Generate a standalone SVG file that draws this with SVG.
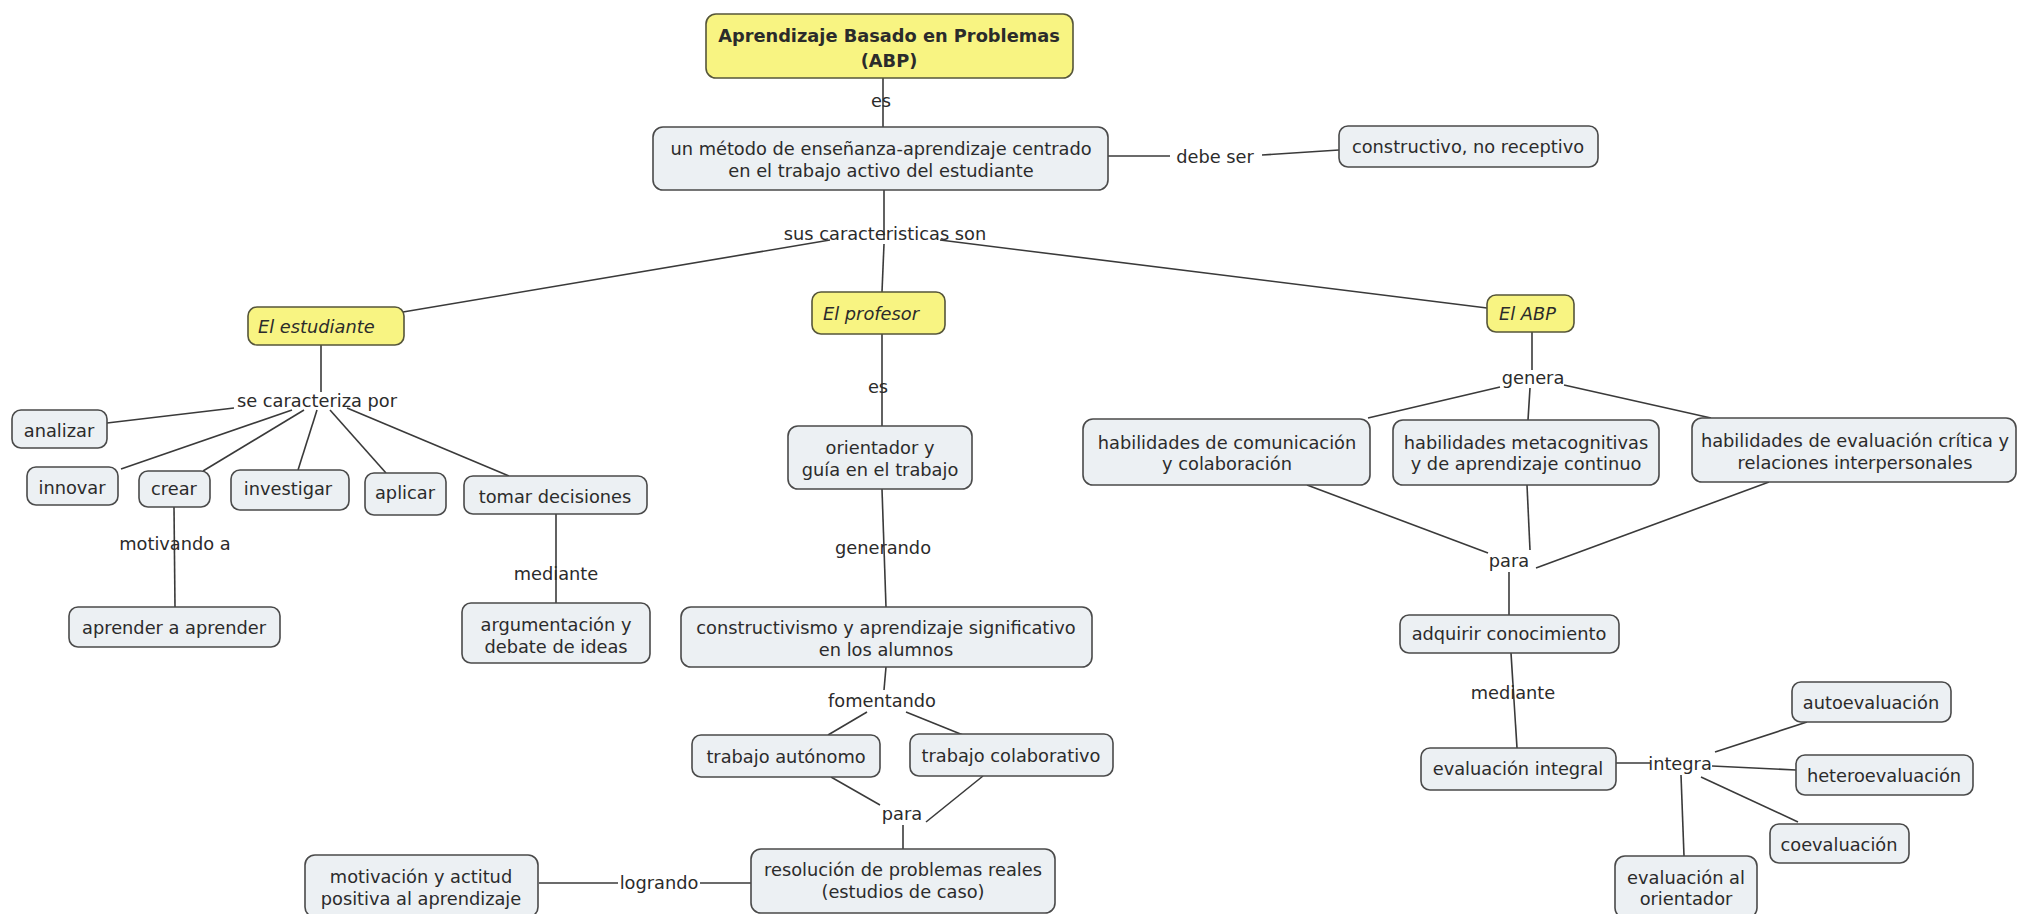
<svg xmlns="http://www.w3.org/2000/svg" width="2018" height="914" viewBox="0 0 2018 914">
<style>
text{font-family:"DejaVu Sans",Verdana,sans-serif;font-size:17.8px;fill:#2b2b2b;dominant-baseline:central;text-anchor:middle}
.n rect{fill:#ecf0f3;stroke:#4a4a4a;stroke-width:1.6}
.y rect{fill:#f8f482;stroke:#55553a;stroke-width:1.6}
.b{font-weight:bold}
.i{font-style:italic;text-anchor:start}
#connectors line{stroke:#3a3a3a;stroke-width:1.6}
</style>
<rect width="2018" height="914" fill="#ffffff"/>
<g id="connectors">
<line x1="883" y1="78" x2="883" y2="127"/>
<line x1="1108" y1="156" x2="1170" y2="156"/>
<line x1="1262" y1="155" x2="1339" y2="150"/>
<line x1="884" y1="190" x2="884" y2="240"/>
<line x1="830" y1="240" x2="403" y2="312"/>
<line x1="884" y1="244" x2="882" y2="292"/>
<line x1="940" y1="240" x2="1487" y2="308"/>
<line x1="321" y1="345" x2="321" y2="392"/>
<line x1="234" y1="408" x2="107" y2="423"/>
<line x1="292" y1="410" x2="121" y2="469"/>
<line x1="304" y1="410" x2="203" y2="471"/>
<line x1="317" y1="410" x2="298" y2="470"/>
<line x1="330" y1="410" x2="386" y2="473"/>
<line x1="347" y1="408" x2="509" y2="476"/>
<line x1="174" y1="507" x2="175" y2="607"/>
<line x1="556" y1="514" x2="556" y2="603"/>
<line x1="882" y1="334" x2="882" y2="426"/>
<line x1="882" y1="489" x2="886" y2="607"/>
<line x1="886" y1="667" x2="884" y2="690"/>
<line x1="867" y1="712" x2="828" y2="735"/>
<line x1="906" y1="712" x2="963" y2="735"/>
<line x1="831" y1="777" x2="880" y2="805"/>
<line x1="983" y1="776" x2="926" y2="822"/>
<line x1="903" y1="825" x2="903" y2="849"/>
<line x1="751" y1="883" x2="700" y2="883"/>
<line x1="618" y1="883" x2="539" y2="883"/>
<line x1="1532" y1="332" x2="1532" y2="370"/>
<line x1="1500" y1="387" x2="1368" y2="418"/>
<line x1="1530" y1="388" x2="1528" y2="420"/>
<line x1="1564" y1="385" x2="1711" y2="418"/>
<line x1="1307" y1="485" x2="1488" y2="553"/>
<line x1="1527" y1="485" x2="1530" y2="550"/>
<line x1="1769" y1="482" x2="1536" y2="568"/>
<line x1="1509" y1="572" x2="1509" y2="615"/>
<line x1="1511" y1="653" x2="1517" y2="748"/>
<line x1="1616" y1="763" x2="1650" y2="763"/>
<line x1="1715" y1="752" x2="1807" y2="722"/>
<line x1="1712" y1="766" x2="1796" y2="770"/>
<line x1="1701" y1="777" x2="1798" y2="822"/>
<line x1="1681" y1="775" x2="1684" y2="856"/>
</g>
<g id="labels">
<text x="881" y="100">es</text>
<text x="1215" y="156">debe ser</text>
<text x="885" y="233">sus caracteristicas son</text>
<text x="317" y="400">se caracteriza por</text>
<text x="175" y="543">motivando a</text>
<text x="556" y="573">mediante</text>
<text x="878" y="386">es</text>
<text x="883" y="547">generando</text>
<text x="882" y="700">fomentando</text>
<text x="902" y="813">para</text>
<text x="659" y="882">logrando</text>
<text x="1533" y="377">genera</text>
<text x="1509" y="560">para</text>
<text x="1513" y="692">mediante</text>
<text x="1680" y="763">integra</text>
</g>
<g id="root" class="y"><rect x="706" y="14" width="367" height="64" rx="10"/><text class="b" x="889" y="35">Aprendizaje Basado en Problemas</text><text class="b" x="889" y="60">(ABP)</text></g>
<g id="metodo" class="n"><rect x="653" y="127" width="455" height="63" rx="10"/><text x="881" y="148">un método de enseñanza-aprendizaje centrado</text><text x="881" y="170">en el trabajo activo del estudiante</text></g>
<g id="constructivo" class="n"><rect x="1339" y="126" width="259" height="41" rx="9"/><text x="1468" y="146">constructivo, no receptivo</text></g>
<g id="estudiante" class="y"><rect x="248" y="307" width="156" height="38" rx="9"/><text class="i" x="258" y="326">El estudiante</text></g>
<g id="profesor" class="y"><rect x="812" y="292" width="133" height="42" rx="9"/><text class="i" x="823" y="313">El profesor</text></g>
<g id="abp" class="y"><rect x="1487" y="295" width="87" height="37" rx="9"/><text class="i" x="1499" y="313">El ABP</text></g>
<g id="analizar" class="n"><rect x="12" y="410" width="95" height="38" rx="9"/><text x="59" y="430">analizar</text></g>
<g id="innovar" class="n"><rect x="27" y="467" width="91" height="38" rx="9"/><text x="72" y="487">innovar</text></g>
<g id="crear" class="n"><rect x="139" y="471" width="71" height="36" rx="9"/><text x="174" y="488">crear</text></g>
<g id="investigar" class="n"><rect x="231" y="470" width="118" height="40" rx="9"/><text x="288" y="488">investigar</text></g>
<g id="aplicar" class="n"><rect x="365" y="473" width="81" height="42" rx="9"/><text x="405" y="492">aplicar</text></g>
<g id="tomar" class="n"><rect x="464" y="476" width="183" height="38" rx="9"/><text x="555" y="496">tomar decisiones</text></g>
<g id="aprender" class="n"><rect x="69" y="607" width="211" height="40" rx="9"/><text x="174" y="627">aprender a aprender</text></g>
<g id="argumentacion" class="n"><rect x="462" y="603" width="188" height="60" rx="9"/><text x="556" y="624">argumentación y</text><text x="556" y="646">debate de ideas</text></g>
<g id="orientador" class="n"><rect x="788" y="426" width="184" height="63" rx="10"/><text x="880" y="447">orientador y</text><text x="880" y="469">guía en el trabajo</text></g>
<g id="constructivismo" class="n"><rect x="681" y="607" width="411" height="60" rx="10"/><text x="886" y="627">constructivismo y aprendizaje significativo</text><text x="886" y="649">en los alumnos</text></g>
<g id="autonomo" class="n"><rect x="692" y="735" width="188" height="42" rx="9"/><text x="786" y="756">trabajo autónomo</text></g>
<g id="colaborativo" class="n"><rect x="910" y="734" width="203" height="42" rx="9"/><text x="1011" y="755">trabajo colaborativo</text></g>
<g id="resolucion" class="n"><rect x="751" y="849" width="304" height="64" rx="10"/><text x="903" y="869">resolución de problemas reales</text><text x="903" y="891">(estudios de caso)</text></g>
<g id="motivacion" class="n"><rect x="305" y="855" width="233" height="62" rx="10"/><text x="421" y="876">motivación y actitud</text><text x="421" y="898">positiva al aprendizaje</text></g>
<g id="comunicacion" class="n"><rect x="1083" y="419" width="287" height="66" rx="10"/><text x="1227" y="442">habilidades de comunicación</text><text x="1227" y="463">y colaboración</text></g>
<g id="metacognitivas" class="n"><rect x="1393" y="420" width="266" height="65" rx="10"/><text x="1526" y="442">habilidades metacognitivas</text><text x="1526" y="463">y de aprendizaje continuo</text></g>
<g id="critica" class="n"><rect x="1692" y="418" width="324" height="64" rx="10"/><text x="1855" y="440">habilidades de evaluación crítica y</text><text x="1855" y="462">relaciones interpersonales</text></g>
<g id="adquirir" class="n"><rect x="1400" y="615" width="219" height="38" rx="9"/><text x="1509" y="633">adquirir conocimiento</text></g>
<g id="integral" class="n"><rect x="1421" y="748" width="195" height="42" rx="9"/><text x="1518" y="768">evaluación integral</text></g>
<g id="autoevaluacion" class="n"><rect x="1792" y="682" width="159" height="40" rx="9"/><text x="1871" y="702">autoevaluación</text></g>
<g id="heteroevaluacion" class="n"><rect x="1796" y="755" width="177" height="40" rx="9"/><text x="1884" y="775">heteroevaluación</text></g>
<g id="coevaluacion" class="n"><rect x="1770" y="824" width="139" height="39" rx="9"/><text x="1839" y="844">coevaluación</text></g>
<g id="evorientador" class="n"><rect x="1615" y="856" width="142" height="62" rx="10"/><text x="1686" y="877">evaluación al</text><text x="1686" y="898">orientador</text></g>
</svg>
